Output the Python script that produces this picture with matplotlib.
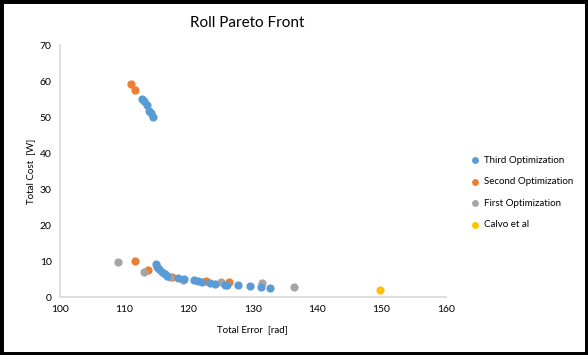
import matplotlib
matplotlib.use('Agg')
import matplotlib.pyplot as plt
from matplotlib.patches import Rectangle

plt.rcParams['font.family'] = ['Lato', 'DejaVu Sans']

# Third optimization (blue)
third_err = [112.8, 113.1, 113.6, 113.9, 114.2, 114.5,
             115.0, 115.1, 115.4, 115.8, 116.3, 116.7, 118.4, 119.3, 120.9,
             121.5, 122.1, 123.3, 124.1, 125.7, 126.0, 127.7, 129.5, 131.2, 132.6]
third_cost = [55.0, 54.4, 53.3, 51.6, 51.2, 50.1,
              9.1, 8.4, 7.7, 7.1, 6.3, 5.9, 5.4, 5.0, 4.7,
              4.5, 4.1, 3.8, 3.6, 3.3, 3.4, 3.3, 3.2, 2.9, 2.6]

# Second optimization (orange)
second_err = [111.0, 111.7, 111.7, 113.7, 117.4, 122.7, 126.3]
second_cost = [59.3, 57.5, 10.0, 7.5, 5.5, 4.5, 4.1]

# First optimization (gray)
first_err = [109.0, 113.1, 117.1, 119.2, 125.0, 131.4, 136.4]
first_cost = [9.8, 6.9, 5.7, 4.7, 4.1, 3.8, 2.9]

# Calvo et al (yellow)
calvo_err = [149.8]
calvo_cost = [2.1]

fig = plt.figure(figsize=(5.88, 3.55), dpi=100)
ax = fig.add_axes([0.102, 0.163, 0.656, 0.71])

ms = 24
ax.scatter(third_err, third_cost, s=ms, color='#5B9BD5', label='Third Optimization', zorder=3)
ax.scatter(second_err, second_cost, s=ms, color='#ED7D31', label='Second Optimization', zorder=2)
ax.scatter(first_err, first_cost, s=ms, color='#A5A5A5', label='First Optimization', zorder=2)
ax.scatter(calvo_err, calvo_cost, s=ms, color='#FFC000', label='Calvo et al', zorder=2)

ax.set_xlim(100, 160)
ax.set_ylim(0, 70)
ax.set_xticks(range(100, 161, 10))
ax.set_yticks(range(0, 71, 10))
ax.tick_params(length=0, labelsize=7.5, pad=6)
for s in ['top', 'right']:
    ax.spines[s].set_visible(False)
for s in ['left', 'bottom']:
    ax.spines[s].set_color('#D9D9D9')
    ax.spines[s].set_linewidth(1.2)

ax.set_xlabel('Total Error  [rad]', fontsize=7, labelpad=8)
ax.set_ylabel('Total Cost  [W]', fontsize=7, labelpad=3)
fig.text(0.42, 0.935, 'Roll Pareto Front', ha='center', va='center', fontsize=11)

ax.legend(loc='center left', bbox_to_anchor=(1.04, 0.415), frameon=False,
          fontsize=7, handlelength=1.0, handletextpad=0.5, labelspacing=1.3,
          markerscale=0.8)

fig.add_artist(Rectangle((0, 0), 1, 1, transform=fig.transFigure,
                         fill=False, edgecolor='black', linewidth=5, zorder=10))

fig.savefig('out.png', dpi=100)
